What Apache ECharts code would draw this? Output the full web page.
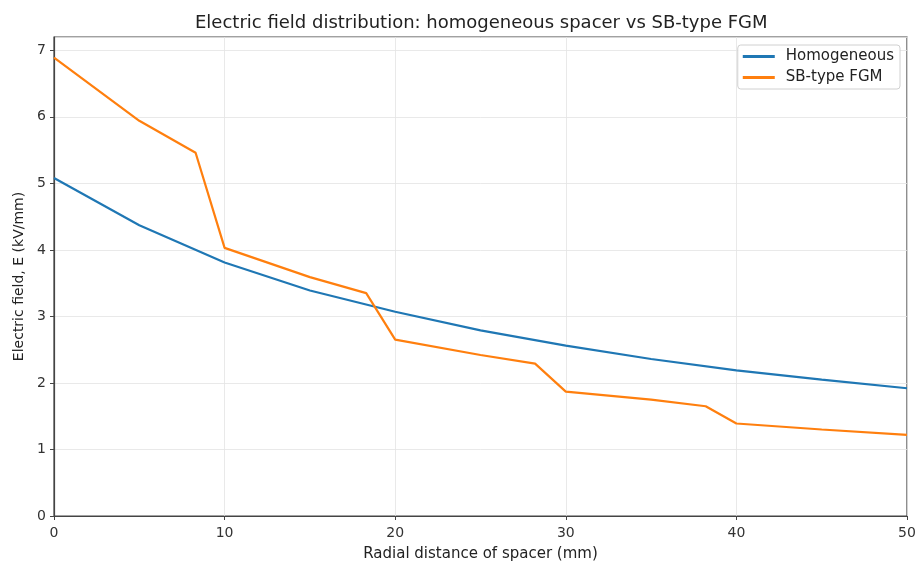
<!DOCTYPE html>
<html>
<head>
<meta charset="utf-8">
<script src="https://cdn.jsdelivr.net/npm/echarts@6/dist/echarts.min.js"></script>
<style>html,body{margin:0;padding:0;background:#fff}#c{width:919px;height:562px}</style>
</head>
<body>
<div id="c"></div>
<script>
const xHom = [0, 5, 10, 15, 20, 25, 30, 35, 40, 45, 50];
const yHom = [5.08, 4.37, 3.81, 3.39, 3.07, 2.79, 2.56, 2.36, 2.19, 2.05, 1.92];
const xFgm = [0, 5, 8.3, 10, 15, 18.3, 20, 25, 28.2, 30, 35, 38.2, 40, 45, 50];
const yFgm = [6.89, 5.94, 5.46, 4.03, 3.59, 3.35, 2.65, 2.42, 2.29, 1.87, 1.75, 1.65, 1.39, 1.30, 1.22];
const seriesNames = ['Homogeneous', 'SB-type FGM'];
const titleText = 'Electric field distribution: homogeneous spacer vs SB-type FGM';
const xName = 'Radial distance of spacer (mm)';
const yName = 'Electric field, E (kV/mm)';

const font = 'DejaVu Sans';
const chart = echarts.init(document.getElementById('c'), null, {renderer: 'canvas'});
const axisCommon = {
  axisLine: {show: true, lineStyle: {color: '#444', width: 1.2}},
  axisTick: {show: true, inside: false, length: 4, lineStyle: {color: '#444'}},
  axisLabel: {color: '#333', fontFamily: font, fontSize: 14},
  splitLine: {show: true, lineStyle: {color: '#e3e3e3', width: 0.8}},
  nameTextStyle: {color: '#222', fontFamily: font, fontSize: 14}
};
chart.setOption({
  animation: false,
  backgroundColor: '#fff',
  title: {
    text: titleText, left: 190, top: 9,
    textStyle: {fontFamily: font, fontSize: 18, fontWeight: 'normal', color: '#222'}
  },
  legend: {
    data: seriesNames, orient: 'vertical', right: 19, top: 45,
    itemWidth: 32, itemHeight: 3, itemGap: 6,
    backgroundColor: 'rgba(255,255,255,0.9)', borderColor: '#d0d0d0', borderWidth: 1, borderRadius: 3,
    padding: [4, 6, 4, 5],
    textStyle: {fontFamily: font, fontSize: 15, color: '#222', padding: [0, 0, 0, 6]},
    icon: 'rect'
  },
  grid: {left: 54, right: 12, top: 37, bottom: 46, show: true, borderColor: '#444', borderWidth: 1.2,
    backgroundColor: 'transparent', containLabel: false, outerBoundsMode: 'none'},
  xAxis: Object.assign({}, axisCommon, {
    type: 'value', min: 0, max: 50, interval: 10,
    name: xName, nameLocation: 'middle', nameGap: 31,
    nameTextStyle: Object.assign({}, axisCommon.nameTextStyle, {fontSize: 15}),
    axisLabel: Object.assign({}, axisCommon.axisLabel, {margin: 10})
  }),
  yAxis: Object.assign({}, axisCommon, {
    type: 'value', min: 0, max: 7.2, interval: 1,
    name: yName, nameLocation: 'middle', nameGap: 27,
    axisLabel: Object.assign({}, axisCommon.axisLabel, {margin: 8, showMaxLabel: false})
  }),
  series: [
    {
      name: seriesNames[0], type: 'line', showSymbol: false, symbol: 'none',
      data: xHom.map((x, i) => [x, yHom[i]]),
      lineStyle: {color: '#1f77b4', width: 2.2}, itemStyle: {color: '#1f77b4'}
    },
    {
      name: seriesNames[1], type: 'line', showSymbol: false, symbol: 'none',
      data: xFgm.map((x, i) => [x, yFgm[i]]),
      lineStyle: {color: '#ff7f0e', width: 2.2}, itemStyle: {color: '#ff7f0e'}
    }
  ]
});
</script>
</body>
</html>
